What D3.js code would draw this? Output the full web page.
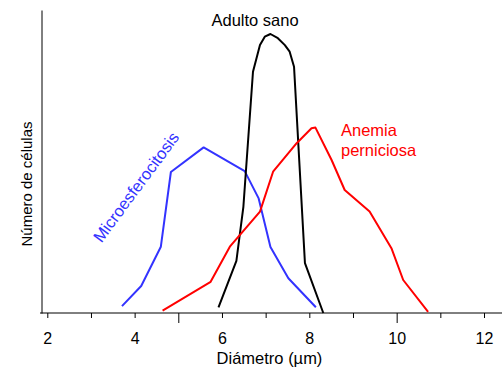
<!DOCTYPE html>
<html>
<head>
<meta charset="utf-8">
<script src="https://cdn.jsdelivr.net/npm/d3@7"></script>
<style>
  body { margin: 0; background: #fff; }
  text { font-family: "Liberation Sans", Arial, sans-serif; }
</style>
</head>
<body>
<svg id="chart" width="503" height="368"></svg>
<script>
// datos (diámetro en µm, número de células en unidades arbitrarias)
const microDiam = [3.71, 4.15, 4.60, 4.83, 5.58, 6.52, 6.84, 7.11, 7.52, 8.15];
const microCount = [2.3, 9.0, 22.1, 47.0, 55.2, 47.3, 38.2, 22.0, 11.6, 1.9];

const sanoDiam = [5.92, 6.33, 6.49, 6.71, 6.87, 6.98, 7.11, 7.28, 7.44, 7.55, 7.65, 7.90, 8.32];
const sanoCount = [1.9, 17.4, 35.4, 80.4, 89.3, 92.1, 93.0, 91.6, 89.3, 87.1, 82.1, 16.6, 0];

const perniDiam = [4.64, 5.74, 6.18, 6.87, 7.17, 7.71, 8.05, 8.14, 8.51, 8.81, 9.38, 9.88, 10.15, 10.72];
const perniCount = [0.8, 10.4, 22.1, 33.8, 47.1, 56.6, 61.6, 61.8, 51.0, 41.0, 33.8, 21.6, 11.0, 0.4];

const xTicks = [2, 3, 4, 5, 6, 7, 8, 9, 10, 11, 12];
const xMajor = [5, 10];

const svg = d3.select("#chart");

const x = d3.scaleLinear().domain([2, 12]).range([47.3, 484]);
const y = d3.scaleLinear().domain([0, 101]).range([313, 10]);

// eje x
const xAxis = svg.append("g")
  .attr("transform", "translate(0,313)")
  .call(d3.axisBottom(x)
    .tickValues(xTicks)
    .tickSize(5)
    .tickFormat(d => d % 2 === 0 ? d : ""));
xAxis.select(".domain").remove();
xAxis.selectAll(".tick line")
  .attr("stroke", "#000")
  .attr("y2", d => xMajor.includes(d) ? 10 : 5);
xAxis.selectAll(".tick text")
  .attr("y", 31)
  .attr("dy", null)
  .attr("fill", "#000")
  .style("font-size", "16px");
xAxis.append("line")
  .attr("x1", 40).attr("x2", 502)
  .attr("stroke", "#000");

// eje y (sin marcas)
svg.append("g")
  .attr("transform", "translate(41.5,0)")
  .call(d3.axisLeft(y).tickValues([]).tickSizeOuter(0))
  .select(".domain").attr("stroke", "#000");

svg.append("text")
  .attr("x", 269.5).attr("y", 364)
  .attr("text-anchor", "middle")
  .style("font-size", "16.5px")
  .text("Diámetro (µm)");

svg.append("text")
  .attr("transform", "translate(31.5,184) rotate(-90)")
  .attr("text-anchor", "middle")
  .style("font-size", "15px")
  .text("Número de células");

// curvas
const line = d3.line()
  .x(d => x(d[0]))
  .y(d => y(d[1]));

const series = [
  { diam: microDiam, count: microCount, color: "#3333ff" },
  { diam: sanoDiam, count: sanoCount, color: "#000000" },
  { diam: perniDiam, count: perniCount, color: "#ff0000" }
];

svg.selectAll(".curve")
  .data(series)
  .enter().append("path")
  .attr("class", "curve")
  .attr("d", s => line(d3.zip(s.diam, s.count)))
  .attr("fill", "none")
  .attr("stroke", s => s.color)
  .attr("stroke-width", 2)
  .attr("stroke-linejoin", "round");

// etiquetas
svg.append("text")
  .attr("x", 211.5).attr("y", 26)
  .style("font-size", "16.5px")
  .text("Adulto sano");

svg.append("text")
  .attr("x", 341).attr("y", 136)
  .attr("fill", "#ff0000")
  .style("font-size", "16.5px")
  .text("Anemia");
svg.append("text")
  .attr("x", 341).attr("y", 156)
  .attr("fill", "#ff0000")
  .style("font-size", "16.5px")
  .text("perniciosa");

svg.append("text")
  .attr("transform", "translate(136,187) rotate(-53.5)")
  .attr("text-anchor", "middle")
  .attr("dy", "0.35em")
  .attr("fill", "#3333ff")
  .style("font-size", "16.5px")
  .text("Microesferocitosis");
</script>
</body>
</html>
